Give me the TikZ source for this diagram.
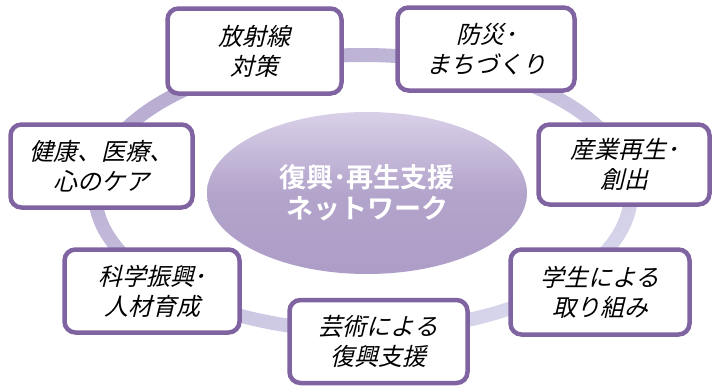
\documentclass[tikz,border=0pt]{standalone}
\usepackage{fontspec}
\newfontfamily\jpfont[FakeSlant=0.24]{Noto Sans CJK JP}
\newfontfamily\jpbold{Noto Sans CJK JP Bold}
\usetikzlibrary{shapes.geometric,shadings}
\definecolor{boxline}{HTML}{8064A2}
\definecolor{ringA}{HTML}{B3A5CC}
\definecolor{ringB}{HTML}{C8C1DF}
\definecolor{ringC}{HTML}{DDDEF0}
\definecolor{hubA}{HTML}{D9D0E8}
\definecolor{hubB}{HTML}{B3A4CB}
\definecolor{hubC}{HTML}{AD9DC7}
\tikzset{
  topic/.style={draw=boxline, line width=4.5pt, fill=white, rounded corners=11pt,
    align=center, inner sep=0pt, font=\jpfont\fontsize{24}{30}\selectfont, text=black},
  hub/.style={ellipse, inner sep=0pt, align=center, text=white,
    font=\jpbold\fontsize{27}{31}\selectfont}
}
\begin{document}
\begin{tikzpicture}[x=1pt,y=-1pt]
\useasboundingbox (0,0) rectangle (713,388);
\fill[white] (0,0) rectangle (713,388);
% ring
\shade[even odd rule, upper left=ringA, upper right=ringB, lower left=ringB, lower right=ringC]
  (363,193) ellipse [x radius=275, y radius=145]
  (363,193) ellipse [x radius=261, y radius=131];
% hub
\shade[top color=hubA, bottom color=hubC, middle color=hubB]
  (367,193) ellipse [x radius=160, y radius=81];
\node[hub] (hub) at (367,193) {復興･再生支援\\ネットワーク};
% topics
\node[topic, minimum width=174pt, minimum height=85pt] (b1) at (254.5,51) {放射線\\対策};
\node[topic, minimum width=177pt, minimum height=83pt] (b2) at (486,49) {防災･\\まちづくり};
\node[topic, minimum width=171pt, minimum height=80pt] (b3) at (624,164.5) {産業再生･\\創出};
\node[topic, minimum width=179pt, minimum height=85pt] (b4) at (600,292) {学生による\\取り組み};
\node[topic, minimum width=178pt, minimum height=83pt] (b5) at (378.5,341.5) {芸術による\\復興支援};
\node[topic, minimum width=175pt, minimum height=83pt] (b6) at (152,291) {科学振興･\\人材育成};
\node[topic, minimum width=182pt, minimum height=83pt] (b7) at (101.5,166) {健康、医療、\\心のケア};
\end{tikzpicture}
\end{document}
